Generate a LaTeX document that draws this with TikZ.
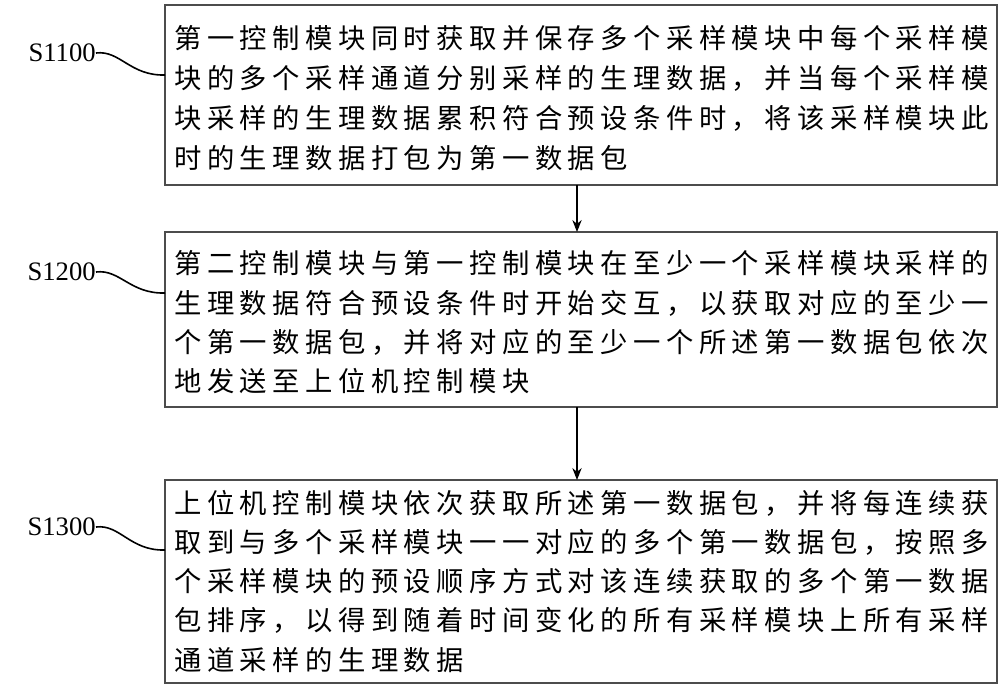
\documentclass[tikz,border=0pt]{standalone}
\usepackage{fontspec}
\setmainfont{Liberation Serif}
\newfontfamily\cjk[LetterSpace=20]{Noto Sans CJK SC}
\usetikzlibrary{arrows.meta}
\tikzset{
 box/.style={draw=black!70,line width=0.8pt},
 ln/.style={anchor=west,inner sep=0,font=\cjk\fontsize{20.5pt}{22pt}\selectfont},
 lab/.style={anchor=east,inner sep=0,font=\fontsize{20pt}{22pt}\selectfont},
 arr/.style={-{Stealth[length=9pt,width=7pt]},line width=0.8pt},
 wav/.style={line width=1.2pt}
}
\begin{document}
\begin{tikzpicture}[x=0.75pt,y=-0.75pt]
\useasboundingbox (0,0) rectangle (1000,689);
\draw[box] (165,5) rectangle (997,185);
\draw[box] (165,232) rectangle (997,407);
\draw[box] (165,480) rectangle (997,683);
\coordinate (b1s) at (577,185);\coordinate (b2n) at (577,232);
\coordinate (b2s) at (577,407);\coordinate (b3n) at (577,480);
\draw[arr] (b1s) -- (b2n);
\draw[arr] (b2s) -- (b3n);
% box1
\node[ln] (a1) at (174,38) {第一控制模块同时获取并保存多个采样模块中每个采样模};
\node[ln] (a2) at (174,78) {块的多个采样通道分别采样的生理数据，并当每个采样模};
\node[ln] (a3) at (174,118) {块采样的生理数据累积符合预设条件时，将该采样模块此};
\node[ln] (a4) at (174,158) {时的生理数据打包为第一数据包};
% box2
\node[ln] (c1) at (174,263) {第二控制模块与第一控制模块在至少一个采样模块采样的};
\node[ln] (c2) at (174,303) {生理数据符合预设条件时开始交互，以获取对应的至少一};
\node[ln] (c3) at (174,342) {个第一数据包，并将对应的至少一个所述第一数据包依次};
\node[ln] (c4) at (174,381) {地发送至上位机控制模块};
% box3
\node[ln] (d1) at (174,503) {上位机控制模块依次获取所述第一数据包，并将每连续获};
\node[ln] (d2) at (174,542) {取到与多个采样模块一一对应的多个第一数据包，按照多};
\node[ln] (d3) at (174,581) {个采样模块的预设顺序方式对该连续获取的多个第一数据};
\node[ln] (d4) at (174,620) {包排序，以得到随着时间变化的所有采样模块上所有采样};
\node[ln] (d5) at (174,660) {通道采样的生理数据};
% labels
\node[lab] (s1) at (96,53) {S1100};
\node[lab] (s2) at (96,272) {S1200};
\node[lab] (s3) at (96,527) {S1300};
\draw[wav] (s1.east) .. controls (120,50) and (130,76) .. (165,75);
\draw[wav] (s2.east) .. controls (120,269) and (130,294) .. (165,293);
\draw[wav] (s3.east) .. controls (120,524) and (130,551) .. (165,550);
\end{tikzpicture}
\end{document}
